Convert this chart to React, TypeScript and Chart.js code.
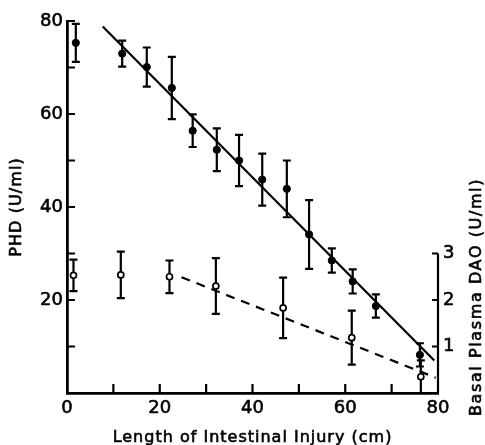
import React, { useEffect, useRef } from 'react';
import { Chart, registerables } from 'chart.js';

Chart.register(...registerables);

// PHD (filled circles, left axis)
const phdX = [1.9, 11.9, 17.2, 22.6, 27.1, 32.3, 37.1, 42.1, 47.4, 52.2, 57.1, 61.6, 66.6, 76.1];
const phdY = [75.3, 73.0, 70.1, 65.6, 56.4, 52.3, 50.0, 45.9, 43.9, 34.1, 28.5, 24.0, 18.7, 8.2];
const phdErr = [4.1, 2.8, 4.2, 6.7, 3.5, 4.6, 5.5, 5.6, 6.1, 7.4, 2.6, 2.6, 2.5, 2.5];

// Basal plasma DAO (open circles, right axis)
const daoX = [1.4, 11.6, 22.1, 32.1, 46.6, 61.4, 76.3];
const daoY = [2.53, 2.54, 2.50, 2.30, 1.83, 1.19, 0.35];
const daoErr = [0.34, 0.50, 0.35, 0.60, 0.65, 0.58, 0.35];

// regression lines
const phdFitX = [7.7, 79.2];
const phdFitY = [78.8, 7.0];
const daoFitX = [24.7, 79.5];
const daoFitY = [2.49, 0.33];

// axes
const xTickLabels = [0, 20, 40, 60, 80];
const xMinorTicks = [10, 30, 50, 70];
const phdTickLabels = [20, 40, 60, 80];
const phdMinorTicks = [10, 30, 50, 70];
const daoTickLabels = [1, 2, 3];

const xTitle = 'Length of Intestinal Injury (cm)';
const phdTitle = 'PHD (U/ml)';
const daoTitle = 'Basal Plasma DAO (U/ml)';

const FONT = "'DejaVu Sans', sans-serif";

const decorPlugin = {
  id: 'decor',
  beforeDatasetsDraw(chart: any) {
    const ctx = chart.ctx;
    const xs = chart.scales.x;
    const ys = chart.scales.y;
    const y2 = chart.scales.y2;
    ctx.save();
    ctx.strokeStyle = '#000';
    ctx.lineWidth = 2.2;
    const bar = (px: number, top: number, bot: number) => {
      ctx.beginPath();
      ctx.moveTo(px, top);
      ctx.lineTo(px, bot);
      ctx.moveTo(px - 4, top);
      ctx.lineTo(px + 4, top);
      ctx.moveTo(px - 4, bot);
      ctx.lineTo(px + 4, bot);
      ctx.stroke();
    };
    phdX.forEach((x, i) => {
      bar(xs.getPixelForValue(x), ys.getPixelForValue(phdY[i] + phdErr[i]), ys.getPixelForValue(phdY[i] - phdErr[i]));
    });
    daoX.forEach((x, i) => {
      bar(xs.getPixelForValue(x), y2.getPixelForValue(daoY[i] + daoErr[i]), y2.getPixelForValue(Math.max(0, daoY[i] - daoErr[i])));
    });
    ctx.restore();
  },
  afterDraw(chart: any) {
    const ctx = chart.ctx;
    const xs = chart.scales.x;
    const ys = chart.scales.y;
    const y2 = chart.scales.y2;
    const area = chart.chartArea;
    ctx.save();
    ctx.strokeStyle = '#000';
    ctx.lineWidth = 2.2;
    ctx.beginPath();
    // x ticks (inward, upward)
    [...xTickLabels.slice(1), ...xMinorTicks].forEach((v) => {
      const px = xs.getPixelForValue(v);
      ctx.moveTo(px, area.bottom);
      ctx.lineTo(px, area.bottom - 9);
    });
    // left ticks (inward)
    [...phdTickLabels, ...phdMinorTicks].forEach((v) => {
      const py = ys.getPixelForValue(v);
      ctx.moveTo(area.left, py);
      ctx.lineTo(area.left + 8, py);
    });
    // right partial axis
    ctx.moveTo(area.right, y2.getPixelForValue(0));
    ctx.lineTo(area.right, y2.getPixelForValue(daoTickLabels[daoTickLabels.length - 1]));
    daoTickLabels.forEach((v) => {
      const py = y2.getPixelForValue(v);
      ctx.moveTo(area.right, py);
      ctx.lineTo(area.right - 6, py);
    });
    ctx.stroke();

    // titles
    ctx.fillStyle = '#000';
    ctx.strokeStyle = '#000';
    ctx.lineWidth = 0.6;
    ctx.font = `16px ${FONT}`;
    ctx.textAlign = 'center';
    ctx.textBaseline = 'middle';
    const txt = (s: string, x: number, y: number) => {
      ctx.fillText(s, x, y);
      ctx.strokeText(s, x, y);
    };
    (ctx as any).letterSpacing = '1px';
    txt(xTitle, (area.left + area.right) / 2, 438);

    ctx.save();
    ctx.translate(16.5, (area.top + area.bottom) / 2);
    ctx.rotate(-Math.PI / 2);
    (ctx as any).letterSpacing = '1.1px';
    txt(phdTitle, 0, 0);
    ctx.restore();

    ctx.save();
    ctx.translate(477, 297);
    ctx.rotate(-Math.PI / 2);
    (ctx as any).letterSpacing = '1.6px';
    txt(daoTitle, 0, 0);
    ctx.restore();

    (ctx as any).letterSpacing = '0px';
    ctx.restore();
  },
};

export default function App() {
  const ref = useRef<HTMLCanvasElement | null>(null);

  useEffect(() => {
    if (!ref.current) return;
    const tickFont = { family: FONT, size: 18 };
    const tickOpts = { font: tickFont, color: '#000', autoSkip: false, textStrokeColor: '#000', textStrokeWidth: 0.6 };
    const chart = new Chart(ref.current, {
      type: 'scatter',
      data: {
        datasets: [
          {
            label: 'PHD',
            data: phdX.map((x, i) => ({ x, y: phdY[i] })),
            yAxisID: 'y',
            showLine: false,
            pointRadius: 3.6,
            pointBackgroundColor: '#000',
            pointBorderColor: '#000',
            pointBorderWidth: 1,
            clip: false,
          } as any,
          {
            label: 'DAO',
            data: daoX.map((x, i) => ({ x, y: daoY[i] })),
            yAxisID: 'y2',
            showLine: false,
            pointRadius: 3,
            pointBackgroundColor: '#fff',
            pointBorderColor: '#000',
            pointBorderWidth: 1.7,
            clip: false,
          } as any,
          {
            label: 'PHD fit',
            data: phdFitX.map((x, i) => ({ x, y: phdFitY[i] })),
            yAxisID: 'y',
            showLine: true,
            borderColor: '#000',
            borderWidth: 2.2,
            pointRadius: 0,
          } as any,
          {
            label: 'DAO fit',
            data: daoFitX.map((x, i) => ({ x, y: daoFitY[i] })),
            yAxisID: 'y2',
            showLine: true,
            borderColor: '#000',
            borderWidth: 2.2,
            borderDash: [9, 7],
            pointRadius: 0,
          } as any,
        ],
      },
      options: {
        animation: false,
        responsive: false,
        maintainAspectRatio: false,
        layout: { padding: { top: 21, left: 0, right: 0, bottom: 0 } },
        plugins: {
          legend: { display: false },
          tooltip: { enabled: false },
          title: { display: false },
        },
        scales: {
          x: {
            type: 'linear',
            position: 'bottom',
            min: 0,
            max: 80,
            grid: { display: false, drawTicks: false },
            border: { display: true, color: '#000', width: 2.8 },
            ticks: { ...tickOpts, padding: 5, maxRotation: 0 },
            afterBuildTicks: (s: any) => {
              s.ticks = xTickLabels.map((v) => ({ value: v }));
            },
            afterFit: (s: any) => {
              s.height = 52;
            },
          },
          y: {
            type: 'linear',
            position: 'left',
            min: 0,
            max: 80,
            grid: { display: false, drawTicks: false },
            border: { display: true, color: '#000', width: 2.8 },
            ticks: { ...tickOpts, padding: 4 },
            afterBuildTicks: (s: any) => {
              s.ticks = phdTickLabels.map((v) => ({ value: v }));
            },
            afterFit: (s: any) => {
              s.width = 67;
            },
          },
          y2: {
            type: 'linear',
            position: 'right',
            min: 0,
            max: 8,
            grid: { display: false, drawTicks: false },
            border: { display: false },
            ticks: { ...tickOpts, padding: 5 },
            afterBuildTicks: (s: any) => {
              s.ticks = daoTickLabels.map((v) => ({ value: v }));
            },
            afterFit: (s: any) => {
              s.width = 47;
            },
          },
        },
      } as any,
      plugins: [decorPlugin],
    });
    return () => chart.destroy();
  }, []);

  return (
    <div style={{ position: 'fixed', left: 0, top: 0, width: 485, height: 445, background: '#fff' }}>
      <canvas ref={ref} width={485} height={445} style={{ display: 'block', width: 485, height: 445 }} />
    </div>
  );
}
